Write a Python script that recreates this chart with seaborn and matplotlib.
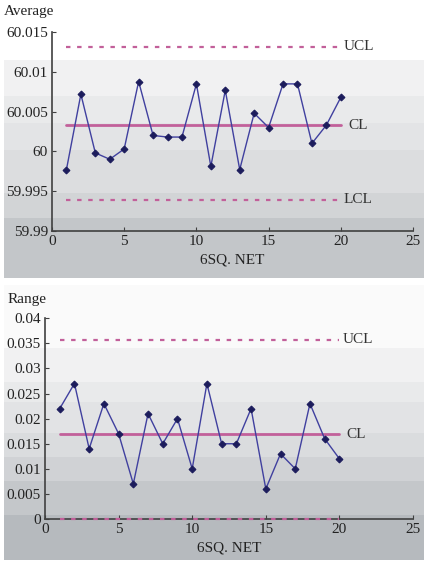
import pandas as pd
import matplotlib.pyplot as plt
import seaborn as sns
from matplotlib.patches import Rectangle
from matplotlib.ticker import MultipleLocator

# sample numbers and chart values
sample = list(range(1, 21))
avg = [59.9977, 60.0072, 59.9998, 59.9990, 60.0003, 60.0088, 60.0020, 60.0018, 60.0018, 60.0085,
       59.9981, 60.0077, 59.9977, 60.0048, 60.0030, 60.0085, 60.0085, 60.0010, 60.0033, 60.0068]
rng = [0.022, 0.027, 0.014, 0.023, 0.017, 0.007, 0.021, 0.015, 0.020, 0.010,
       0.027, 0.015, 0.015, 0.022, 0.006, 0.013, 0.010, 0.023, 0.016, 0.012]
avg_limits = {"UCL": 60.0132, "CL": 60.0033, "LCL": 59.9939}
rng_limits = {"UCL": 0.0357, "CL": 0.0169, "LCL": 0.0}

df = pd.DataFrame({"sample": sample, "avg": avg, "rng": rng})

sns.set_style("ticks")
plt.rcParams["font.family"] = ["Liberation Serif", "DejaVu Serif"]
plt.rcParams["font.size"] = 11

fig = plt.figure(figsize=(4.3, 5.62), dpi=100)

# grey background bands (pixel rows top->bottom, colour)
W, H = 430, 562
bands = [
    (0, 60, "#ffffff"), (60, 96, "#f1f1f2"), (96, 123, "#e9eaeb"), (123, 150, "#e3e4e6"),
    (150, 193, "#dcdddf"), (193, 218, "#d2d4d6"), (218, 278, "#c3c6c9"),
    (278, 285, "#ffffff"),
    (285, 348, "#fafafa"), (348, 382, "#f1f1f2"), (382, 402, "#e9eaeb"), (402, 433, "#e2e3e5"),
    (433, 457, "#dadcde"), (457, 481, "#d0d2d5"), (481, 515, "#c4c7ca"), (515, 560, "#b6babe"),
]
for y0, y1, c in bands:
    fig.patches.append(Rectangle((4 / W, 1 - y1 / H), 420 / W, (y1 - y0) / H,
                                 transform=fig.transFigure, color=c, zorder=-10, lw=0))

ax1 = fig.add_axes([52 / W, 1 - 230.7 / H, 361 / W, 198.4 / H])
ax2 = fig.add_axes([45 / W, 1 - 519 / H, 368 / W, 200.7 / H])

line_c = "#40409f"
mark_c = "#1c1c5c"
lim_c = "#c2609a"


def fmt(v, p):
    return ("%.3f" % v).rstrip("0").rstrip(".")


for ax, col, lims, ylim, title, tx, ty in [
    (ax1, "avg", avg_limits, (59.99, 60.015), "Average", 4, 12),
    (ax2, "rng", rng_limits, (0, 0.04), "Range", 8, 300),
]:
    ax.set_facecolor("none")
    sns.lineplot(data=df, x="sample", y=col, ax=ax, color=line_c, lw=1,
                 marker="D", markersize=3.5, markerfacecolor=mark_c, markeredgecolor=mark_c, zorder=3)
    for name, v in lims.items():
        if name == "CL":
            ax.plot([1, 20], [v, v], color=lim_c, lw=2, zorder=2)
            ax.text(20.5, v, "CL", va="center", ha="left", fontsize=11, color="#333333")
        else:
            ax.plot([1, 20], [v, v], color=lim_c, lw=1.6, ls=(0, (2, 3)), zorder=4, clip_on=False)
            if v != 0:
                ax.text(20.2, v, name, va="center", ha="left", fontsize=11, color="#333333")
    ax.set_xlim(0, 25)
    ax.set_ylim(*ylim)
    ax.xaxis.set_major_locator(MultipleLocator(5))
    ax.yaxis.set_major_locator(MultipleLocator(0.005))
    ax.yaxis.set_major_formatter(plt.FuncFormatter(fmt))
    ax.tick_params(direction="in", length=3, color="#404040", labelcolor="#222222", labelsize=11, pad=3)
    for s in ["top", "right"]:
        ax.spines[s].set_visible(False)
    for s in ["left", "bottom"]:
        ax.spines[s].set_color("#404040")
        ax.spines[s].set_linewidth(1.2)
    ax.set_xlabel("6SQ. NET", fontsize=11, color="#222222", labelpad=4)
    ax.set_ylabel("")
    fig.text(tx / W, 1 - ty / H, title, ha="left", va="center", fontsize=11, color="#222222")

fig.savefig("out.png", dpi=100)
